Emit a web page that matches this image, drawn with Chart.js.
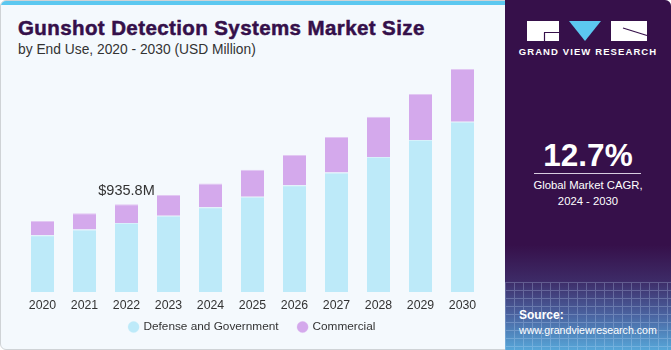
<!DOCTYPE html>
<html>
<head>
<meta charset="utf-8">
<script src="https://cdn.jsdelivr.net/npm/chart.js@4.4.1/dist/chart.umd.min.js"></script>
<style>
  html, body { margin: 0; padding: 0; }
  body { width: 671px; height: 350px; position: relative; overflow: hidden; background: #fff; font-family: "Liberation Sans", Arial, sans-serif; }
  .frame { position: absolute; left: 0; top: 0; width: 669px; height: 348px; border: 1px solid #cfd3d6; border-radius: 6px; background: #f4f9fd; overflow: hidden; }
  .topbar { position: absolute; left: 0; top: 0; width: 505px; height: 4px; background: #5cc8f0; }
  .title { position: absolute; left: 17px; top: 15px; font-size: 20.5px; font-weight: 900; color: #35104a; letter-spacing: 0.4px; -webkit-text-stroke: 0.5px #35104a; white-space: nowrap; }
  .subtitle { position: absolute; left: 17px; top: 41px; font-size: 13.8px; color: #333; white-space: nowrap; }
  .side { position: absolute; left: 505px; top: 0; width: 166px; height: 350px; border-top-right-radius: 6px; overflow: hidden;
    background: linear-gradient(to bottom, #36104a 0%, #36104a 70%, #3d2a66 80%, #4a63a0 90%, #56a6d8 100%); }
  .grid { position: absolute; left: 0; top: 282px; width: 166px; height: 68px; opacity: 0.25;
    background-image: repeating-linear-gradient(to right, #cfe4ff 0 1px, transparent 1px 9px),
                      repeating-linear-gradient(to bottom, #cfe4ff 0 1px, transparent 1px 8px); }
  .logo { position: absolute; left: 22px; top: 20px; }
  .brand { position: absolute; left: 0; width: 166px; top: 46px; text-align: center; font-size: 9.5px; font-weight: bold; color: #fff; letter-spacing: 1.1px; }
  .cagr { position: absolute; left: 0; width: 166px; top: 137px; text-align: center; font-size: 31.5px; font-weight: bold; color: #fff; }
  .rule { position: absolute; left: 29px; width: 107px; top: 173px; height: 1px; background: #d8cde0; }
  .cagrtxt { position: absolute; left: 0; width: 166px; top: 177px; text-align: center; font-size: 11.3px; line-height: 16px; color: #fff; }
  .source { position: absolute; left: 14px; top: 308px; font-size: 10.6px; line-height: 15px; color: #fff; }
  .source b { font-weight: bold; font-size: 12px; }
  canvas { position: absolute; left: 0; top: 0; }
</style>
</head>
<body>
<div class="frame">
  <div class="topbar"></div>
  <div class="title">Gunshot Detection Systems Market Size</div>
  <div class="subtitle">by End Use, 2020 - 2030 (USD Million)</div>
</div>
<div class="side">
  <div class="grid"></div>
  <svg class="logo" width="122" height="22" viewBox="0 0 122 22">
    <rect x="0" y="1" width="32" height="20" fill="#fff"/>
    <path d="M17 12.5 H32 M17.5 12.5 V21" stroke="#36104a" stroke-width="1.2" fill="none"/>
    <polygon points="42,1 74,1 58,21" fill="#5cc8f0"/>
    <rect x="84" y="1" width="36" height="20" fill="#fff"/>
    <path d="M96 8 L120 15.5" stroke="#36104a" stroke-width="1.2"/>
  </svg>
  <div class="brand">GRAND VIEW RESEARCH</div>
  <div class="cagr">12.7%</div>
  <div class="rule"></div>
  <div class="cagrtxt">Global Market CAGR,<br>2024 - 2030</div>
  <div class="source"><b>Source:</b><br>www.grandviewresearch.com</div>
</div>
<canvas id="chart" width="505" height="350"></canvas>
<script>
// values, USD million
const years = ['2020', '2021', '2022', '2023', '2024', '2025', '2026', '2027', '2028', '2029', '2030'];
const defenseGov = [605, 665, 736, 814, 904, 1014, 1138, 1273, 1440, 1619, 1814];
const commercial = [153, 175, 200, 221, 252, 288, 323, 378, 427, 491, 562];
const labelIndex = 2;
const labelText = '$935.8M';

// label over the 2022 bar
const topLabel = {
    id: 'topLabel',
    afterDatasetsDraw(chart) {
        const bar = chart.getDatasetMeta(1).data[labelIndex];
        const ctx = chart.ctx;
        ctx.save();
        ctx.font = '14.5px "Liberation Sans", Arial, sans-serif';
        ctx.fillStyle = '#333';
        ctx.textAlign = 'center';
        ctx.textBaseline = 'bottom';
        ctx.fillText(labelText, bar.x, bar.y - 6);
        ctx.restore();
    }
};

new Chart(document.getElementById('chart'), {
    type: 'bar',
    data: {
        labels: years,
        datasets: [{
            label: 'Defense and Government',
            data: defenseGov,
            backgroundColor: '#bdeaf9',
            borderColor: '#d6f1fb',
            borderWidth: { top: 1, left: 0, right: 0, bottom: 0 },
            borderSkipped: false
        }, {
            label: 'Commercial',
            data: commercial,
            backgroundColor: '#d4a9ec',
            borderColor: '#e2c8f3',
            borderWidth: { top: 1, left: 0, right: 0, bottom: 0 },
            borderSkipped: false
        }]
    },
    options: {
        responsive: false,
        animation: false,
        layout: { padding: { left: 21.5, right: 21.5, top: 48, bottom: 7.1 } },
        datasets: { bar: { categoryPercentage: 1, barPercentage: 0.55 } },
        plugins: {
            legend: {
                position: 'bottom',
                // empty title with negative padding pulls the row up, so item spacing can stay wide
                title: { display: true, text: '', font: { size: 1, lineHeight: 1 }, padding: { top: 0, bottom: -19.7 } },
                labels: {
                    usePointStyle: true,
                    pointStyle: 'circle',
                    boxWidth: 8,
                    boxHeight: 8,
                    padding: 20,
                    color: '#333',
                    font: { family: '"Liberation Sans", Arial, sans-serif', size: 11.8 }
                }
            },
            tooltip: { enabled: false }
        },
        scales: {
            x: {
                stacked: true,
                grid: { display: false, drawTicks: false, tickLength: 0 },
                border: { display: false },
                ticks: {
                    color: '#333',
                    padding: 6.5,
                    font: { family: '"Liberation Sans", Arial, sans-serif', size: 12.3 }
                }
            },
            y: {
                stacked: true,
                display: false,
                min: 0,
                max: 2600
            }
        }
    },
    plugins: [topLabel]
});
</script>
</body>
</html>
